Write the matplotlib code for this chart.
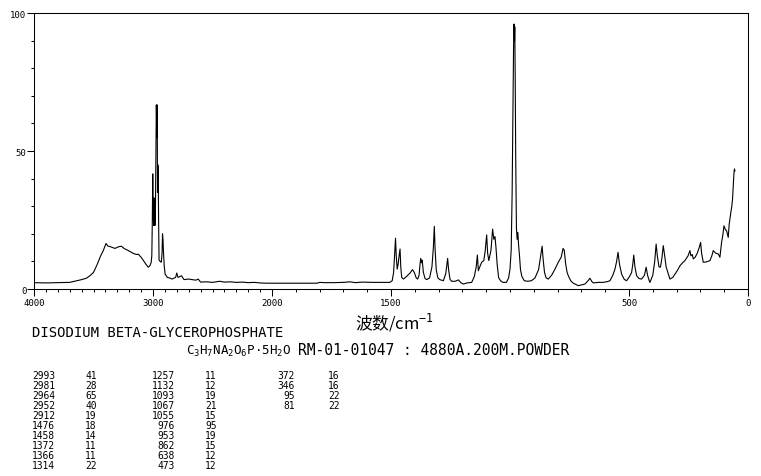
"""Raman spectrum of disodium beta-glycerophosphate with peak table."""

import numpy as np
import matplotlib

matplotlib.use("Agg")
import matplotlib.pyplot as plt
from matplotlib.ticker import FixedLocator, NullFormatter

# spectrum (cm-1, relative intensity)
wavenumber = [
    4000, 3900, 3800, 3700, 3650, 3600, 3560, 3530, 3500, 3470, 3440, 3418,
    3400, 3395, 3380, 3350, 3320, 3290, 3265, 3240, 3220, 3190, 3165, 3140,
    3123, 3100, 3080, 3060, 3040, 3025, 3015, 3010, 3006, 3002, 2999, 2995,
    2991, 2988, 2984, 2980, 2976, 2972, 2968, 2965, 2962, 2959, 2956, 2953,
    2949, 2940, 2930, 2924, 2920, 2916, 2912, 2905, 2898, 2880, 2860, 2840,
    2810, 2800, 2790, 2760, 2740, 2700, 2640, 2620, 2600, 2550, 2500, 2440,
    2400, 2350, 2300, 2250, 2200, 2150, 2100, 2050, 2000,
    1950, 1900, 1850, 1810, 1800, 1780, 1740, 1700, 1672, 1650, 1620, 1580,
    1540, 1505, 1495, 1489, 1485, 1481, 1478, 1474, 1470, 1466, 1462, 1459,
    1455, 1448, 1435, 1420, 1410, 1402, 1394, 1388, 1382, 1378, 1375, 1372,
    1369, 1364, 1357, 1350, 1338, 1328, 1322, 1318, 1315, 1310, 1303, 1295,
    1280, 1270, 1265, 1262, 1258, 1252, 1245, 1230, 1217, 1205, 1196, 1180,
    1161, 1150, 1142, 1137, 1133, 1127, 1119, 1110, 1104, 1098, 1094, 1089,
    1080, 1073, 1068, 1063, 1059, 1054, 1048, 1040, 1030, 1015, 1006, 1000,
    995, 991, 988, 985, 983, 981, 980, 978, 976, 973, 970, 967, 964, 960,
    956, 950, 940, 925, 910, 895, 880, 871, 865, 861, 855, 848, 839, 825,
    811, 797, 785, 777, 772, 766, 760, 755, 745, 734, 713, 695, 685, 672,
    664, 657, 650, 630, 608, 590, 580, 568, 559, 552, 546, 540, 531, 520,
    510, 498, 489, 484, 480, 475, 468, 458, 447, 435, 428, 422, 415, 412,
    400, 392, 386, 381, 374, 368, 362, 356, 350, 344, 339, 328, 316, 307,
    296, 286, 275, 265, 252, 244, 240, 234, 230, 222, 213, 205, 199, 195,
    188, 175, 160, 152, 146, 136, 125, 118, 111, 105, 101, 95, 90, 83, 79,
    75, 72, 68, 65, 62, 59, 57, 55,
]
intensity = [
    2.3, 2.2, 2.3, 2.4, 2.9, 3.4, 3.9, 4.8, 6.0, 8.8, 12.0, 13.9,
    15.9, 16.5, 15.6, 15.2, 14.7, 15.3, 15.5, 14.6, 14.2, 13.5, 12.9, 12.5,
    12.6, 11.5, 10.3, 9.0, 7.9, 8.5, 9.7, 12.0, 24.0, 41.7, 30.0, 23.0,
    33.0, 28.0, 23.0, 26.0, 45.0, 66.7, 55.0, 66.7, 35.0, 45.0, 41.0, 25.0,
    10.5, 10.0, 9.7, 13.0, 20.0, 18.0, 13.3, 8.0, 5.4, 4.2, 4.0, 3.6,
    4.2, 5.8, 4.2, 4.8, 3.4, 3.6, 3.2, 3.6, 2.5, 2.6, 2.4, 2.8,
    2.5, 2.6, 2.4, 2.5, 2.3, 2.4, 2.2, 2.1, 2.1,
    2.1, 2.1, 2.1, 2.1, 2.4, 2.3, 2.3, 2.4, 2.6, 2.3, 2.5, 2.4,
    2.4, 2.4, 3.0, 6.0, 12.0, 18.4, 12.0, 7.2, 9.0, 12.0, 14.5, 8.0,
    4.2, 3.6, 4.5, 5.8, 7.0, 6.0, 4.0, 3.6, 5.0, 9.0, 11.1, 9.5,
    10.5, 6.0, 3.8, 3.4, 4.0, 8.0, 15.0, 22.7, 15.0, 7.0, 4.0, 3.4,
    3.0, 5.5, 9.0, 11.1, 7.0, 3.5, 2.8, 2.8, 3.3, 2.2, 1.8, 2.2,
    2.4, 4.5, 8.0, 12.3, 6.6, 8.0, 9.7, 10.3, 14.0, 19.6, 13.0, 10.3,
    14.0, 21.7, 18.0, 19.0, 15.1, 9.0, 4.2, 3.0, 2.4, 2.4, 4.0, 7.2,
    14.0, 35.0, 60.0, 88.0, 96.0, 90.0, 95.0, 75.0, 48.0, 22.0, 18.0, 20.5, 16.0, 12.0,
    7.0, 4.5, 3.0, 2.8, 3.0, 4.0, 7.0, 12.0, 15.5, 11.0, 6.0, 4.0, 3.6, 5.0,
    7.2, 9.7, 11.5, 14.7, 14.0, 9.0, 6.0, 4.8, 3.0, 2.1, 1.2, 1.6, 1.8, 3.0,
    3.9, 2.8, 2.2, 2.4, 2.4, 2.7, 3.0, 5.0, 7.2, 10.0, 13.3, 9.0, 5.4, 3.5,
    3.0, 4.5, 6.0, 9.0, 12.3, 8.0, 4.8, 3.8, 3.6, 5.0, 7.9, 5.0, 3.0, 2.4,
    5.0, 10.0, 16.3, 12.0, 8.0, 7.9, 11.0, 15.7, 12.0, 8.0, 6.6, 3.6, 4.2, 5.4,
    6.8, 8.4, 9.5, 10.3, 12.0, 13.9, 12.0, 12.5, 10.9, 11.5, 13.0, 15.0, 16.9, 13.0,
    9.7, 9.8, 10.3, 12.0, 13.9, 13.0, 12.7, 11.5, 16.9, 20.0, 22.9, 21.5, 21.1, 18.7, 23.5,
    26.0, 27.8, 30.0, 32.6, 37.0, 42.0, 43.5, 42.8,
]

# peak table printed under the chart
peak_wn = [2993, 2981, 2964, 2952, 2912, 1476, 1458, 1372, 1366, 1314,
           1257, 1132, 1093, 1067, 1055, 976, 953, 862, 638, 473,
           372, 346, 95, 81]
peak_int = [41, 28, 65, 40, 19, 18, 14, 11, 11, 22,
            11, 12, 19, 21, 15, 95, 19, 15, 12, 12,
            16, 16, 22, 22]

x_major = [4000, 3000, 2000, 1500, 500, 0]
x_minor = list(range(3900, 2000, -100)) + list(range(1900, 0, -100))
y_major = [0, 50, 100]
y_minor = list(range(10, 100, 10))

TITLE = "DISODIUM BETA-GLYCEROPHOSPHATE"
FORMULA = "C$_3$H$_7$NA$_2$O$_6$P\u00b75H$_2$O"
SAMPLE = "RM-01-01047 : 4880A.200M.POWDER"

W, H = 761, 477
MONO = "DejaVu Sans Mono"

plt.rcParams["font.family"] = MONO
plt.rcParams["mathtext.fontset"] = "custom"
plt.rcParams["mathtext.rm"] = MONO
plt.rcParams["mathtext.default"] = "rm"


def _fwd(w):
    # increasing map: 4000-2000 takes one third of the width, 2000-0 two thirds
    w = np.asarray(w, dtype=float)
    return np.where(w >= 2000, (w - 4000.0) / 6000.0, -1 / 3 - (2000.0 - w) / 3000.0)


def _inv(h):
    h = np.asarray(h, dtype=float)
    return np.where(h >= -1 / 3, 4000.0 + 6000.0 * h, 3000.0 + 3000.0 * h)


def px(x, y):
    """Pixel position (from top-left) to figure fraction."""
    return x / W, 1 - y / H


fig = plt.figure(figsize=(W / 100, H / 100), dpi=100)
ax = fig.add_axes([34 / W, 1 - 290 / H, (748 - 34) / W, (290 - 14) / H])

ax.plot(wavenumber, intensity, color="black", lw=0.8)

ax.set_xscale("function", functions=(_fwd, _inv))
ax.set_xlim(4000, 0)
ax.set_ylim(0, 100)

ax.xaxis.set_major_locator(FixedLocator(x_major))
ax.xaxis.set_minor_locator(FixedLocator(x_minor))
ax.xaxis.set_minor_formatter(NullFormatter())
ax.set_xticklabels([str(v) for v in x_major])
ax.yaxis.set_major_locator(FixedLocator(y_major))
ax.yaxis.set_minor_locator(FixedLocator(y_minor))
ax.yaxis.set_minor_formatter(NullFormatter())
ax.set_yticklabels([str(v) for v in y_major])

ax.tick_params(which="major", direction="out", length=5, width=0.75,
               labelsize=6.5, pad=1.5)
ax.tick_params(which="minor", direction="out", length=2.4, width=0.75)
ax.tick_params(axis="y", which="major", pad=0.5)
for sp in ax.spines.values():
    sp.set_linewidth(0.75)

fig.text(*px(395, 323), "波数/cm$^{-1}$", ha="center", va="center",
         fontsize=12, family=["Noto Sans CJK SC", "DejaVu Sans"])
fig.text(*px(32, 333), TITLE, ha="left", va="center", fontsize=10)
fig.text(*px(186, 351), FORMULA, ha="left", va="center", fontsize=9)
fig.text(*px(298, 351), SAMPLE, ha="left", va="center", fontsize=10.5)

# three columns of ten rows: wavenumber right aligned, intensity left aligned
col_wn_right = [55, 175, 295]
col_int_left = [85, 205, 328]
for i, (wn, it) in enumerate(zip(peak_wn, peak_int)):
    col, row = divmod(i, 10)
    y = 376 + row * 9.97
    fig.text(*px(col_wn_right[col], y), str(wn), ha="right", va="center", fontsize=6.9)
    fig.text(*px(col_int_left[col], y), str(it), ha="left", va="center", fontsize=6.9)

fig.savefig("out.png", dpi=100)
